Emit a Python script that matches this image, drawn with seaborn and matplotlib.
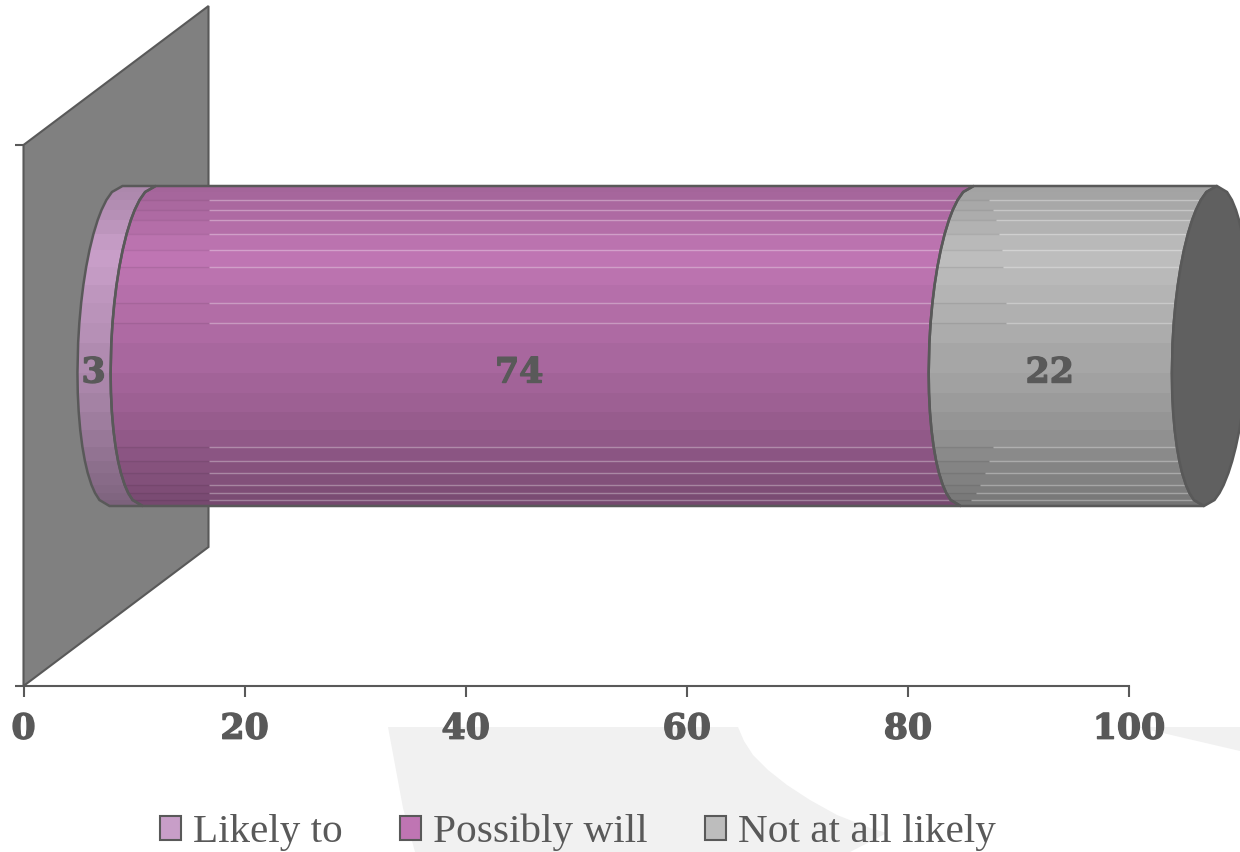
import numpy as np
import pandas as pd
import matplotlib
matplotlib.use("Agg")
import matplotlib.pyplot as plt
import matplotlib.patheffects as pe
from matplotlib.patches import Polygon
from matplotlib.colors import to_rgb
import seaborn as sns

# values
answers = ["Likely to", "Possibly will", "Not at all likely"]
shares = [3, 74, 22]
x_ticks = [0, 20, 40, 60, 80, 100]
bar_colors = ["#C89EC8", "#BF75B3", "#BDBDBD"]

TEXT = "#595959"
W, H = 1240, 852

# bar shading: bands in pixels from the top of the cylinder, brightness per band
band_edges = [186, 192, 200, 210, 220, 234, 250, 267, 285, 303, 323, 343, 373,
              393, 412, 430, 447, 461, 473, 485, 493, 500, 506]
band_light = [.86, .87, .89, .91, .94, .98, 1.0, .98, .95, .93, .91, .88, .85,
              .82, .79, .76, .73, .70, .68, .66, .64, .62]
line_edges = [200, 210, 220, 234, 250, 267, 303, 323, 447, 461, 473, 485, 493, 500]

sns.set_style("white")
plt.rcParams["font.family"] = ["DejaVu Serif"]

df = pd.DataFrame({"answer": answers, "share": shares})
df["left"] = df["share"].cumsum() - df["share"]

fig = plt.figure(figsize=(W / 100, H / 100), dpi=100)
heavy = [pe.withStroke(linewidth=1.0, foreground=TEXT)]


def box(x0, x1, ytop, ybot):
    return [x0 / W, 1 - ybot / H, (x1 - x0) / W, (ybot - ytop) / H]


def to_fig(pts):
    return [(x / W, 1 - y / H) for x, y in pts]


# faint watermark behind the chart
curve = [(738, 727), (744, 741), (753, 755), (768, 770), (787, 785), (810, 800),
         (837, 815), (870, 828), (887, 833), (850, 852), (415, 852), (403, 808), (388, 727)]
fig.add_artist(Polygon(to_fig(curve), closed=True, transform=fig.transFigure,
                       fc="#F1F1F1", ec="none", zorder=0))
fig.add_artist(Polygon(to_fig([(1137, 727), (1240, 727), (1240, 751)]), closed=True,
                       transform=fig.transFigure, fc="#F1F1F1", ec="none", zorder=0))

# front plane with the axis, wall goes back into the depth
ax = fig.add_axes(box(23.5, 1129, 145, 686), facecolor="none")
ax.set_xlim(0, 100)
ax.set_ylim(0, 1)
depth_x, depth_y = 185 / 1105.5, 139 / 541
ax.add_patch(Polygon([(0, 0), (depth_x, depth_y), (depth_x, 1 + depth_y), (0, 1)],
                     closed=True, transform=ax.transAxes, fc="#808080", ec=TEXT,
                     lw=1.5, clip_on=False))
sns.despine(ax=ax, top=True, right=True, left=True)
ax.spines["bottom"].set_color(TEXT)
ax.spines["bottom"].set_linewidth(1.5)
ax.set_xticks(x_ticks)
ax.set_yticks([0, 1])
ax.set_yticklabels([])
ax.tick_params(axis="x", length=8, width=1.5, color=TEXT, labelcolor=TEXT,
               labelsize=25, pad=10.5, bottom=True)
ax.tick_params(axis="y", length=6.5, width=1.5, color=TEXT, left=True)
for lab in ax.get_xticklabels():
    lab.set_fontweight("bold")
    lab.set_path_effects(heavy)

# bars sit half way back in the depth
ax2 = fig.add_axes(box(116, 1221.5, 75.5, 616.5), facecolor="none")
for i, row in df.iterrows():
    sns.barplot(x=[row["share"]], y=["q"], left=row["left"], orient="h", width=320 / 541,
                color=bar_colors[i], saturation=1, edgecolor=TEXT, linewidth=1.5,
                label=row["answer"], ax=ax2)
handles, labels = ax2.get_legend_handles_labels()
fig.legend(handles, labels, loc="center", bbox_to_anchor=(578 / W, 1 - 832.5 / H), ncol=3,
           frameon=False, labelcolor=TEXT, handlelength=.52, handleheight=.52,
           handletextpad=.29, columnspacing=1.38, borderpad=0,
           prop={"family": "Liberation Serif", "size": 29.7})
if ax2.get_legend():
    ax2.get_legend().remove()

px_x = 100 / 1105.5
px_y = 1 / 541
half_w = 38 * px_x
skew = 6.5 * px_x
ys = (np.array(band_edges) - 346) * px_y
half_h = 160 * px_y
line_ys = (np.array(line_edges) - 346) * px_y
wall_x = (209 - 116) * px_x


def end_curve(cx, side=-1):
    u = ys / half_h
    return cx + skew * (-u) + side * half_w * np.sqrt(np.clip(1 - u ** 2, 0, 1))


for i, cont in enumerate(ax2.containers):
    bar = cont.patches[0]
    bar.set_alpha(0)
    x0, x1 = bar.get_x(), bar.get_x() + bar.get_width()
    left_edge, right_edge = end_curve(x0), end_curve(x1)
    outline = np.vstack([np.column_stack([left_edge, ys]),
                         np.column_stack([right_edge, ys])[::-1]])
    shape = Polygon(outline, closed=True, fc="none", ec=TEXT, lw=1.8, zorder=4, clip_on=False)
    ax2.add_patch(shape)
    rgb = np.array([[np.array(to_rgb(bar_colors[i])) * k] for k in band_light])
    mesh = ax2.pcolormesh([x0 - 2 * half_w, x1 + 2 * half_w], ys, rgb, zorder=2)
    mesh.set_clip_box(None)
    mesh.set_clip_path(shape)
    # thin seams left over between the bands
    if i > 0:
        far_side = end_curve(x0, 1)
        for y, lx, fx in zip(line_ys, np.interp(line_ys, ys, left_edge),
                             np.interp(line_ys, ys, far_side)):
            split = wall_x if i == 1 else fx
            dark = ax2.hlines(y, lx, split, colors="#000000", alpha=.07, lw=1, zorder=3)
            light = ax2.hlines(y, split, x1 + half_w, colors="#FFFFFF", alpha=.32, lw=1, zorder=3)
            for seam in (dark, light):
                seam.set_clip_box(None)
                seam.set_clip_path(shape)
    ax2.annotate(str(shares[i]), xy=((x0 + x1) / 2, 0), xytext=(-39 * .72, -26.5 * .72),
                 textcoords="offset points", ha="center", va="center", color=TEXT,
                 fontsize=25, fontweight="bold", zorder=6, annotation_clip=False,
                 path_effects=heavy)

# far end of the cylinder
end_x = df["share"].sum()
cap = np.vstack([np.column_stack([end_curve(end_x), ys]),
                 np.column_stack([end_curve(end_x, 1), ys])[::-1]])
ax2.add_patch(Polygon(cap, closed=True, fc="#606060", ec=TEXT, lw=1.8, zorder=5, clip_on=False))

ax2.set_xlim(0, 100)
ax2.set_ylim(.5, -.5)
ax2.axis("off")

fig.savefig("out.png", dpi=100)
